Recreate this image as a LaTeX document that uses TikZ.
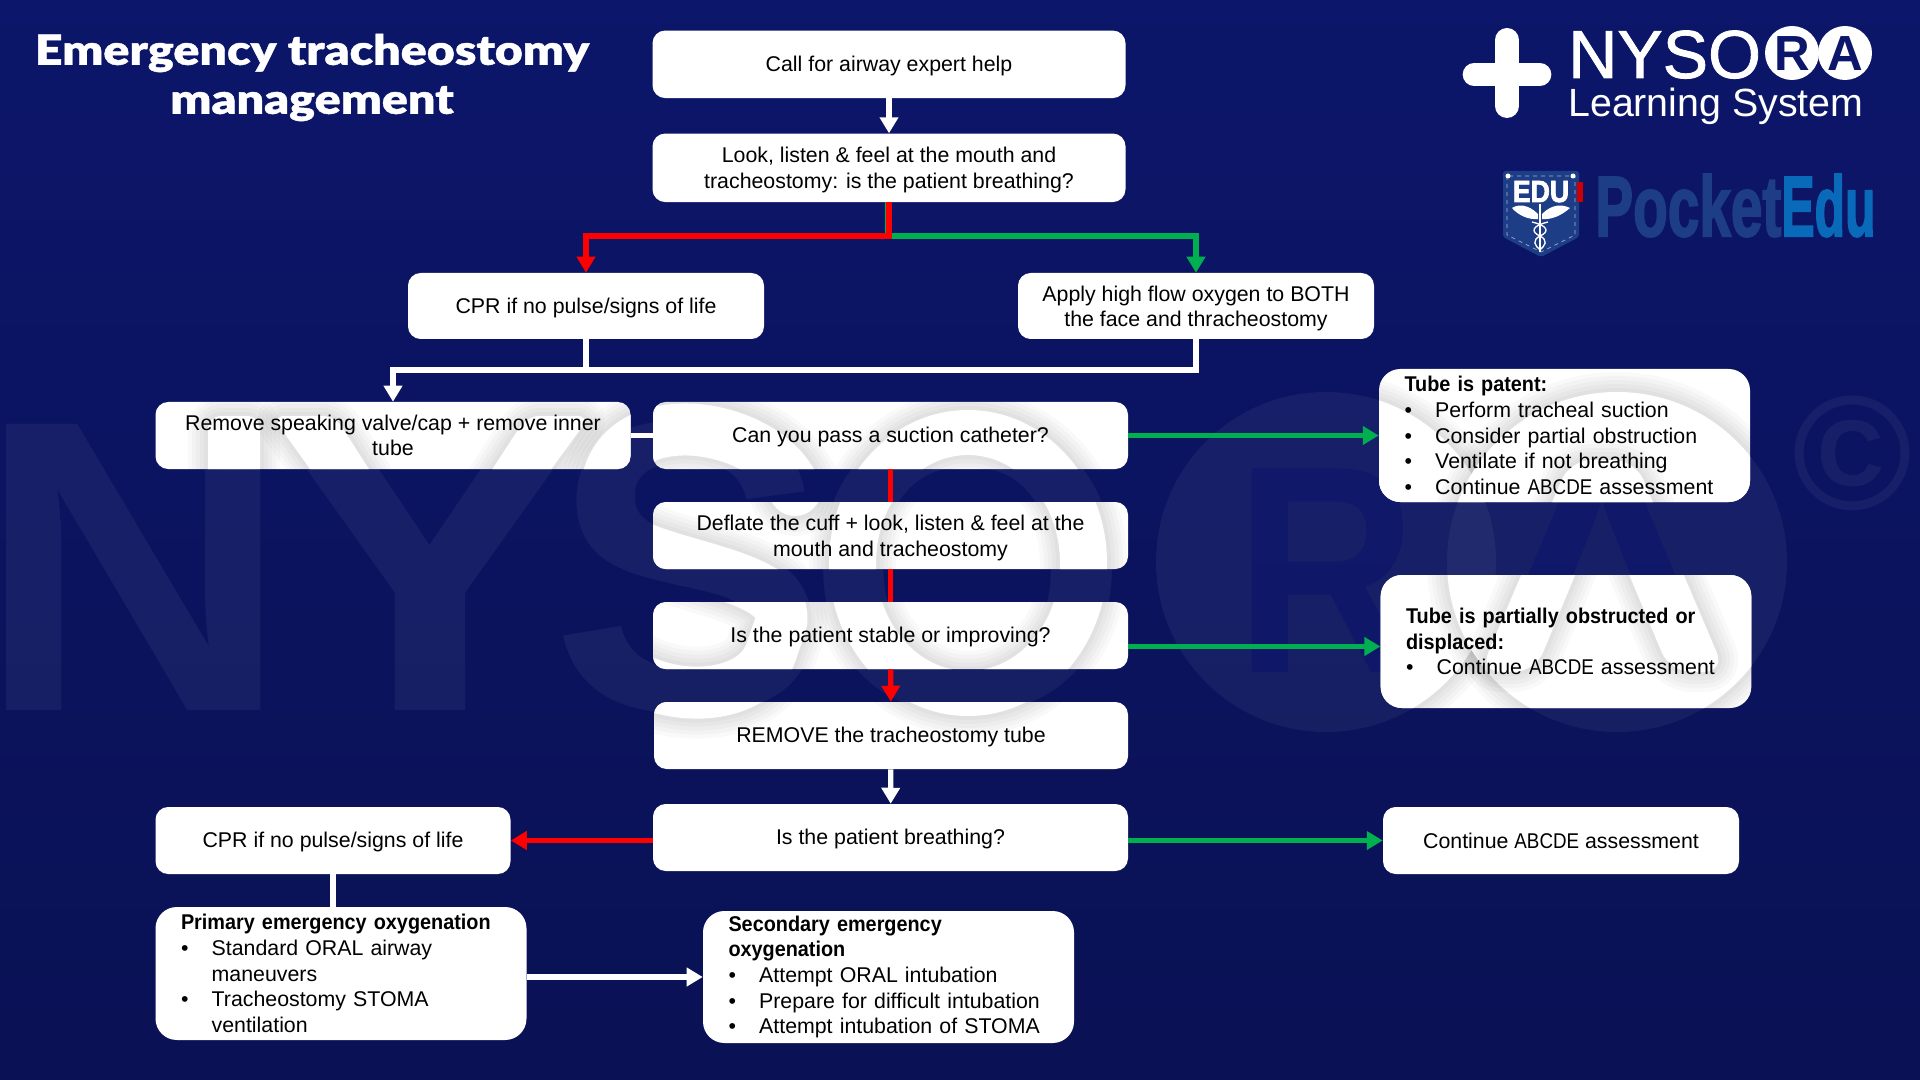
\documentclass[tikz,border=0pt]{standalone}
\usepackage{fontspec}
\setmainfont{Liberation Sans}
\newfontfamily\titlefont[FakeStretch=1.17,FakeBold=1]{Lato Black}
\newfontfamily\headfont[FakeStretch=0.93]{Liberation Sans Bold}
\newfontfamily\logofont[FakeBold=1.2]{Liberation Sans}
\newfontfamily\heavyfont[FakeBold=2.5]{Liberation Sans Bold}
\usetikzlibrary{arrows.meta}
\definecolor{navytop}{RGB}{12,22,106}
\definecolor{navylow}{RGB}{10,17,84}
\definecolor{nogreen}{RGB}{0,176,80}
\definecolor{pocketblue}{RGB}{30,61,135}
\definecolor{edublue}{RGB}{8,106,184}
\tikzset{
	stepbox/.style={
		rectangle, rounded corners=9.5pt, fill=white, text=black, align=center,
		inner sep=0pt, font=\fontsize{16}{19.3}\selectfont, path picture={\wmHalo}
	},
	lowbox/.style={stepbox, execute at begin node={\rule{0pt}{14.5pt}}},
	listbox/.style={
		stepbox, rounded corners=16pt, align=left, text width=240pt, inner xsep=19pt
	},
	wmletter/.style={anchor=base, text=white, text opacity=0.05, font=\bfseries\fontsize{312}{312}\selectfont, inner sep=0pt},
	wmknock/.style={anchor=base, text=navytop, text opacity=0.7, font=\bfseries\fontsize{222}{222}\selectfont, inner sep=0pt},
	logotext/.style={anchor=base west, text=white, inner sep=0pt},
	whiteline/.style={draw=white, line width=3.9pt},
	redline/.style={draw=red, line width=3.9pt},
	greenline/.style={draw=nogreen, line width=3.9pt},
	whitearrow/.style={whiteline, -{Triangle[width=13.5pt,length=12pt]}},
	redarrow/.style={redline, -{Triangle[width=13.5pt,length=12pt]}},
	greenarrow/.style={greenline, -{Triangle[width=13.5pt,length=12pt]}}
}
\newcommand{\stepBox}[7] {
	\node[#6, minimum width=#4*0.75pt, minimum height=#5*0.75pt] (#1) at (#2,#3) {#7};
}
\newcommand{\bul}{\makebox[23pt][l]{\textbullet}}
\newcommand{\bulgap}{\hspace*{23pt}}
\newcommand{\head}[1]{{\headfont #1}}
\newcommand{\lowstrut}{\rule{0pt}{15.4pt}}
\newcommand{\abcde}{\scalebox{0.88}[1]{ABCDE}}
% soft edge of one watermark shape on a white box
\newcommand{\wmPiece}[1] {
	\foreach \w in {6,12,18,24,30} {
		\draw[black, opacity=0.022, line width=\w pt] #1;
	}
	\fill[white, even odd rule] #1;
}
\newcommand{\wmHalo} {
	\begin{scope}
		\pgftransformreset
		\wmPiece{(6,710) -- (6,416) -- (60,416) -- (208,630) -- (208,416) -- (260,416) -- (260,710) -- (208,710) -- (58,490) -- (58,710) -- cycle}
		\wmPiece{(272,416) -- (335,416) -- (430,565) -- (527,416) -- (590,416) -- (456,600) -- (456,710) -- (404,710) -- (404,600) -- cycle}
		\foreach \w in {45,51,57,63,69} {
			\draw[black, opacity=0.022, line width=\w pt, line cap=round] (795,490) .. controls (770,425) and (630,400) .. (605,490) .. controls (585,570) and (805,560) .. (775,640) .. controls (750,715) and (610,705) .. (585,620);
		}
		\draw[white, line width=39pt, line cap=round] (795,490) .. controls (770,425) and (630,400) .. (605,490) .. controls (585,570) and (805,560) .. (775,640) .. controls (750,715) and (610,705) .. (585,620);
		\wmPiece{(968,563) ellipse [x radius=139, y radius=153] (968,563) ellipse [x radius=92, y radius=108]}
		\wmPiece{(1326,562) circle [radius=170]}
		\wmPiece{(1617,562) circle [radius=170]}
		\wmPiece{(1480,672) -- (1570,460) -- (1635,460) -- (1725,672) -- (1670,672) -- (1602,510) -- (1535,672) -- cycle}
	\end{scope}
}

\begin{document}
\begin{tikzpicture}[x=0.75pt,y=-0.75pt]
	% Page
	\useasboundingbox (0,0) rectangle (1920,1080);
	\fill[top color=navytop, bottom color=navylow] (0,0) rectangle (1920,1080);

	% Watermark
	\fill[white, opacity=0.05] (1326,562) circle [radius=170];
	\fill[white, opacity=0.05] (1617,562) circle [radius=170];
	\node[wmletter] (wmN) at (134,710) {\scalebox{1.04}[1]{N}};
	\node[wmletter] (wmY) at (430,710) {\scalebox{1.18}[1]{Y}};
	\node[wmletter] (wmS) at (690,710) {S};
	\node[wmletter] (wmO) at (968,710) {O};
	\node[wmknock] (wmR) at (1326,672) {\scalebox{0.85}[1]{R}};
	\node[wmknock] (wmA) at (1602,672) {\scalebox{1.15}[1]{A}};
	\node[anchor=center, text=white, text opacity=0.05, inner sep=0pt, font=\bfseries\fontsize{122}{122}\selectfont] (wmC) at (1852,453) {©};

	% Title
	\node[text=white, align=center, inner sep=0pt, font=\titlefont\fontsize{31}{36.75}\selectfont] (title) at (312,77.5) {Emergency tracheostomy\\management};

	% NYSORA logo
	\draw[white, line width=18pt, line cap=round] (1507,40) -- (1507,106);
	\draw[white, line width=17pt, line cap=round] (1474,74.5) -- (1540,74.5);
	\fill[white] (1507,55) -- (1526,74.5) -- (1507,94) -- (1488,74.5) -- cycle;
	\node[logotext, font=\logofont\fontsize{51}{51}\selectfont] (logoname) at (1568,78) {NYSO};
	\fill[white] (1792,53) circle [radius=27];
	\fill[white] (1845,53) circle [radius=27];
	\node[anchor=base, text=navytop, inner sep=0pt, font=\bfseries\fontsize{37}{37}\selectfont] (logoR) at (1792,71) {R};
	\node[anchor=base, text=navytop, inner sep=0pt, font=\bfseries\fontsize{37}{37}\selectfont] (logoA) at (1845,71) {A};
	\node[logotext, font=\fontsize{29.5}{29.5}\selectfont] (logoline) at (1568,117) {Learning System};

	% PocketEdu logo
	\fill[pocketblue, rounded corners=2pt] (1503,171) -- (1579,171) -- (1579,237) -- (1541,257) -- (1503,237) -- cycle;
	\draw[white, opacity=0.6, line width=0.5pt, dashed] (1507,176) -- (1507,235) -- (1541,252) -- (1575,235) -- (1575,176) -- cycle;
	\fill[white] (1508,176) circle [radius=2.5];
	\fill[white] (1573,176) circle [radius=2.5];
	\fill[red!80!black] (1577,182) rectangle (1583,202);
	\node[anchor=base, text=white, inner sep=0pt, font=\heavyfont\fontsize{23}{23}\selectfont] (pocketlabel) at (1541,202) {\scalebox{0.87}[1]{EDU}};
	\fill[white] (1538,214) .. controls (1528,204) and (1518,204) .. (1512,208) .. controls (1518,215) and (1528,220) .. (1538,219) -- cycle;
	\fill[white] (1542,214) .. controls (1552,204) and (1562,204) .. (1570,208) .. controls (1562,215) and (1552,220) .. (1542,219) -- cycle;
	\draw[white, line width=1.4pt] (1540,204) -- (1540,252);
	\draw[white, line width=1pt] (1532,222) .. controls (1549,226) and (1549,232) .. (1540,236) .. controls (1532,240) and (1534,246) .. (1541,250);
	\draw[white, line width=1pt] (1548,222) .. controls (1531,226) and (1531,232) .. (1540,236) .. controls (1548,240) and (1546,246) .. (1539,250);
	\node[anchor=base west, text=pocketblue, inner sep=0pt, font=\heavyfont\fontsize{64}{64}\selectfont] (pocketname) at (1595,236) {\scalebox{0.665}[1]{Pocket}};
	\node[anchor=base west, text=edublue, inner sep=0pt, font=\heavyfont\fontsize{64}{64}\selectfont] (eduname) at (1781,236) {\scalebox{0.585}[1]{Edu}};

	% Centre column
	\stepBox{callhelp}{889}{64.3}{473}{67.5}{lowbox}{Call for airway expert help}
	\stepBox{look}{889}{167.8}{473}{68.5}{stepbox}{\lowstrut Look, listen \& feel at the mouth and\\tracheostomy: is the patient breathing?}
	\stepBox{suction}{890.5}{435.5}{475}{67}{lowbox}{Can you pass a suction catheter?}
	\stepBox{deflate}{890.5}{535.5}{475}{67}{stepbox}{\lowstrut Deflate the cuff + look, listen \& feel at the\\mouth and tracheostomy}
	\stepBox{stable}{890.5}{635.5}{475}{67}{lowbox}{Is the patient stable or improving?}
	\stepBox{removetube}{891}{735.5}{474}{67}{lowbox}{REMOVE the tracheostomy tube}
	\stepBox{breathing}{890.5}{837.5}{475}{67}{lowbox}{Is the patient breathing?}

	% Left side
	\stepBox{cprtop}{586}{306}{356}{66}{lowbox}{CPR if no pulse/signs of life}
	\stepBox{removecap}{393}{435.5}{475}{67}{stepbox}{Remove speaking valve/cap + remove inner\\tube}
	\stepBox{cprlow}{333}{840.5}{355}{67}{lowbox}{CPR if no pulse/signs of life}
	\stepBox{primary}{341}{973.5}{371}{133}{listbox}{\head{Primary emergency oxygenation}\\\bul Standard ORAL airway\\\bulgap maneuvers\\\bul Tracheostomy STOMA\\\bulgap ventilation}
	\stepBox{secondary}{888.5}{977}{371}{132}{listbox}{\head{Secondary emergency}\\\head{oxygenation}\\\bul Attempt ORAL intubation\\\bul Prepare for difficult intubation\\\bul Attempt intubation of STOMA}

	% Right side
	\stepBox{oxygen}{1196}{306}{356}{66}{stepbox}{\lowstrut Apply high flow oxygen to BOTH\\the face and thracheostomy}
	\stepBox{patent}{1564.5}{435.5}{371}{133}{listbox}{\head{Tube is patent:}\\\bul Perform tracheal suction\\\bul Consider partial obstruction\\\bul Ventilate if not breathing\\\bul Continue \abcde{} assessment}
	\stepBox{partial}{1566}{641.5}{370}{133}{listbox}{\head{Tube is partially obstructed or}\\\head{displaced:}\\\bul Continue \abcde{} assessment}
	\stepBox{continueabcde}{1561}{840.5}{356}{67}{stepbox}{Continue \abcde{} assessment}

	% Connectors
	\coordinate (split) at (889,236);
	\coordinate (merge) at (393,370);
	\coordinate (stableout) at (1128,646.5);
	\draw[whitearrow] (callhelp) -- (look);
	\draw[greenarrow] ([xshift=-0.9pt]look.south) |- (split) -| (oxygen.north);
	\draw[redarrow] (look.south) -- (split) -| (cprtop.north);
	\draw[whitearrow] (oxygen.south) |- (merge) -- (removecap.north);
	\draw[whiteline] (cprtop.south) -- (cprtop.south |- merge);
	\draw[whiteline] (removecap.east) -- (suction.west);
	\draw[redline] (suction) -- (deflate);
	\draw[redline] (deflate) -- (stable);
	\draw[redarrow] (stable) -- (removetube);
	\draw[whitearrow] (removetube) -- (breathing);
	\draw[redarrow] (breathing.west |- cprlow.east) -- (cprlow.east);
	\draw[greenarrow] (suction.east) -- (patent.west);
	\draw[greenarrow] (stableout) -- (partial.west |- stableout);
	\draw[greenarrow] (breathing.east |- continueabcde.west) -- (continueabcde.west);
	\draw[whiteline] (cprlow.south) -- (cprlow.south |- primary.north);
	\draw[whitearrow] (primary.east |- secondary.west) -- (secondary.west);
\end{tikzpicture}
\end{document}
